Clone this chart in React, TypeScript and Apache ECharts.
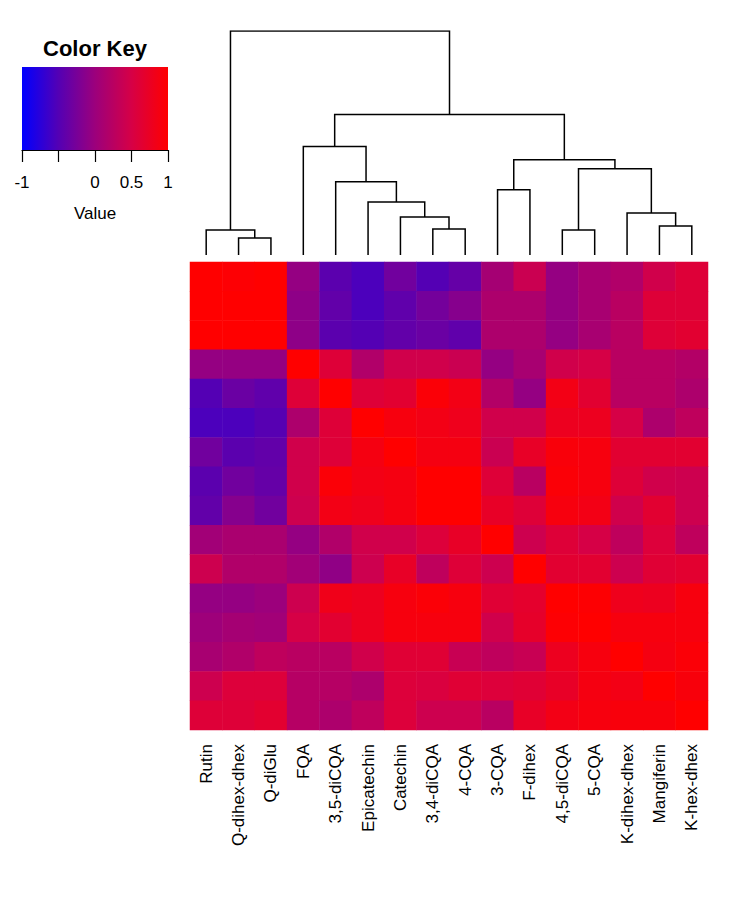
import React, { useEffect, useRef } from "react";
import * as echarts from "echarts";

// Column (and row) order of the clustered heatmap
const compounds = [
  "Rutin", "Q-dihex-dhex", "Q-diGlu", "FQA", "3,5-diCQA", "Epicatechin",
  "Catechin", "3,4-diCQA", "4-CQA", "3-CQA", "F-dihex", "4,5-diCQA",
  "5-CQA", "K-dihex-dhex", "Mangiferin", "K-hex-dhex",
];

// Correlation values, one array per row (top to bottom)
const rowRutin = [1.0, 0.97, 1.0, -0.05, -0.45, -0.55, -0.3, -0.5, -0.38, 0.08, 0.4, -0.05, 0.1, 0.18, 0.45, 0.6];
const rowQdihexdhex = [1.0, 1.0, 1.0, -0.1, -0.4, -0.55, -0.42, -0.28, -0.15, 0.15, 0.15, -0.05, 0.1, 0.25, 0.6, 0.6];
const rowQdiGlu = [1.0, 1.0, 1.0, -0.1, -0.45, -0.5, -0.4, -0.35, -0.42, 0.15, 0.15, -0.05, 0.1, 0.25, 0.6, 0.65];
const rowFQA = [-0.05, -0.05, -0.05, 1.0, 0.6, 0.18, 0.45, 0.45, 0.4, -0.05, 0.1, 0.45, 0.5, 0.25, 0.25, 0.2];
const row35diCQA = [-0.5, -0.35, -0.42, 0.6, 1.0, 0.6, 0.65, 0.95, 0.85, 0.2, -0.05, 0.85, 0.65, 0.25, 0.25, 0.15];
const rowEpicatechin = [-0.55, -0.55, -0.48, 0.15, 0.6, 1.0, 0.9, 0.85, 0.8, 0.45, 0.45, 0.78, 0.78, 0.5, 0.15, 0.3];
const rowCatechin = [-0.3, -0.45, -0.4, 0.45, 0.6, 0.88, 1.0, 0.88, 0.88, 0.4, 0.72, 0.93, 0.9, 0.65, 0.65, 0.65];
const row34diCQA = [-0.45, -0.3, -0.38, 0.45, 0.95, 0.85, 0.88, 1.0, 1.0, 0.6, 0.25, 0.95, 0.9, 0.6, 0.45, 0.42];
const row4CQA = [-0.4, -0.15, -0.3, 0.42, 0.85, 0.8, 0.88, 1.0, 1.0, 0.72, 0.6, 0.9, 0.85, 0.45, 0.65, 0.42];
const row3CQA = [0.05, 0.12, 0.12, -0.05, 0.18, 0.45, 0.45, 0.58, 0.72, 1.0, 0.42, 0.6, 0.5, 0.3, 0.58, 0.3];
const rowFdihex = [0.42, 0.18, 0.18, 0.05, -0.08, 0.42, 0.72, 0.3, 0.6, 0.42, 1.0, 0.65, 0.65, 0.42, 0.62, 0.66];
const row45diCQA = [-0.05, -0.05, 0.0, 0.42, 0.82, 0.78, 0.9, 0.95, 0.9, 0.62, 0.68, 1.0, 0.98, 0.8, 0.78, 0.9];
const row5CQA = [0.02, 0.08, 0.05, 0.5, 0.65, 0.78, 0.9, 0.9, 0.9, 0.45, 0.7, 0.97, 1.0, 0.9, 0.9, 0.9];
const rowKdihexdhex = [0.1, 0.18, 0.3, 0.25, 0.25, 0.45, 0.62, 0.62, 0.38, 0.3, 0.38, 0.78, 0.9, 1.0, 0.88, 0.95];
const rowMangiferin = [0.42, 0.58, 0.58, 0.22, 0.22, 0.15, 0.58, 0.55, 0.62, 0.58, 0.62, 0.72, 0.88, 0.85, 1.0, 0.92];
const rowKhexdhex = [0.6, 0.6, 0.66, 0.22, 0.15, 0.3, 0.58, 0.42, 0.42, 0.25, 0.72, 0.85, 0.9, 0.92, 0.92, 1.0];

const matrixRows = [
  rowRutin, rowQdihexdhex, rowQdiGlu, rowFQA, row35diCQA, rowEpicatechin,
  rowCatechin, row34diCQA, row4CQA, row3CQA, rowFdihex, row45diCQA,
  row5CQA, rowKdihexdhex, rowMangiferin, rowKhexdhex,
];

// Column dendrogram merges (hclust style): negative = leaf (1-based), positive = earlier merge
const mergeLeft = [-2, -1, -8, -7, -6, -5, -4, -10, -12, -15, -14, 9, 8, 7, 2];
const mergeRight = [-3, 1, -9, 3, 4, 5, 6, -11, -13, -16, 10, 11, 12, 13, 14];
const mergeHeight = [0.076, 0.112, 0.116, 0.17, 0.237, 0.327, 0.484, 0.291, 0.112, 0.13, 0.188, 0.385, 0.425, 0.627, 1.0];

// Color key
const keyMin = -1;
const keyMax = 1;
const keyTickStep = 0.5;
const keyTickLabels = ["-1", "", "0", "0.5", "1"];
const keyColors = ["#0000FF", "#5400B4", "#9C007C", "#D60046", "#FF0000"];

const FONT = "'Liberation Sans', Arial, sans-serif";

export default function App() {
  const ref = useRef<HTMLDivElement>(null);

  useEffect(() => {
    if (!ref.current) return;
    const chart = echarts.init(ref.current, undefined, { renderer: "svg" });

    const heatData: number[][] = [];
    matrixRows.forEach((row, r) => {
      row.forEach((v, c) => heatData.push([c, r, v]));
    });

    const nodeX: number[] = [];
    const nodeH: number[] = [];
    const pos = (id: number): [number, number] =>
      id < 0 ? [-id - 1, 0] : [nodeX[id - 1], nodeH[id - 1]];
    const segs: { coords: number[][] }[] = [];
    mergeHeight.forEach((h, i) => {
      const [xa, ha] = pos(mergeLeft[i]);
      const [xb, hb] = pos(mergeRight[i]);
      segs.push({ coords: [[xa, ha], [xa, h], [xb, h], [xb, hb]] });
      nodeX.push((xa + xb) / 2);
      nodeH.push(h);
    });

    const option: any = {
      animation: false,
      backgroundColor: "#ffffff",
      textStyle: { fontFamily: FONT },
      grid: [
        { left: 190, top: 262, width: 518, height: 468 },
        { left: 190, top: 31, width: 518, height: 224 },
        { left: 22, top: 67, width: 146, height: 83 },
      ],
      xAxis: [
        {
          type: "category",
          gridIndex: 0,
          data: compounds,
          axisLine: { show: false },
          axisTick: { show: false },
          splitLine: { show: false },
          axisLabel: {
            rotate: 90,
            interval: 0,
            margin: 14,
            fontSize: 17,
            color: "#000",
            fontFamily: FONT,
          },
        },
        { type: "value", gridIndex: 1, min: -0.5, max: 15.5, show: false },
        {
          type: "value",
          gridIndex: 2,
          min: keyMin,
          max: keyMax,
          interval: keyTickStep,
          splitLine: { show: false },
          axisLine: { show: true, lineStyle: { color: "#000", width: 1.2 } },
          axisTick: { show: true, length: 12, lineStyle: { color: "#000", width: 1.2 } },
          axisLabel: {
            margin: 24,
            fontSize: 17,
            color: "#000",
            fontFamily: FONT,
            formatter: (v: number) =>
              keyTickLabels[Math.round((v - keyMin) / keyTickStep)] ?? "",
          },
          name: "Value",
          nameLocation: "middle",
          nameGap: 55,
          nameTextStyle: { fontSize: 17, color: "#000", fontFamily: FONT },
        },
      ],
      yAxis: [
        {
          type: "category",
          gridIndex: 0,
          data: compounds,
          inverse: true,
          axisLine: { show: false },
          axisTick: { show: false },
          axisLabel: { show: false },
          splitLine: { show: false },
        },
        { type: "value", gridIndex: 1, min: 0, max: 1, show: false },
        { type: "value", gridIndex: 2, min: 0, max: 1, show: false },
      ],
      visualMap: {
        type: "continuous",
        min: keyMin,
        max: keyMax,
        dimension: 2,
        seriesIndex: 0,
        show: false,
        inRange: { color: keyColors },
      },
      graphic: [
        {
          type: "rect",
          z: 0,
          shape: { x: 22, y: 67, width: 146, height: 83 },
          style: {
            fill: new echarts.graphic.LinearGradient(
              0, 0, 1, 0,
              keyColors.map((c, i) => ({ offset: i / (keyColors.length - 1), color: c }))
            ),
          },
        },
        {
          type: "text",
          x: 95,
          y: 48,
          style: {
            text: "Color Key",
            fontSize: 22,
            fontWeight: "bold",
            fontFamily: FONT,
            fill: "#000",
            textAlign: "center",
            textVerticalAlign: "middle",
          },
        },
      ],
      series: [
        {
          type: "heatmap",
          xAxisIndex: 0,
          yAxisIndex: 0,
          data: heatData,
          silent: true,
          progressive: 0,
          itemStyle: { borderWidth: 0 },
        },
        {
          type: "lines",
          coordinateSystem: "cartesian2d",
          xAxisIndex: 1,
          yAxisIndex: 1,
          polyline: true,
          silent: true,
          data: segs,
          lineStyle: { color: "#000", width: 1.5, opacity: 1 },
        },
      ],
    };

    chart.setOption(option);
    return () => chart.dispose();
  }, []);

  return (
    <div
      ref={ref}
      style={{ position: "fixed", left: 0, top: 0, width: 732, height: 901, background: "#fff" }}
    />
  );
}
